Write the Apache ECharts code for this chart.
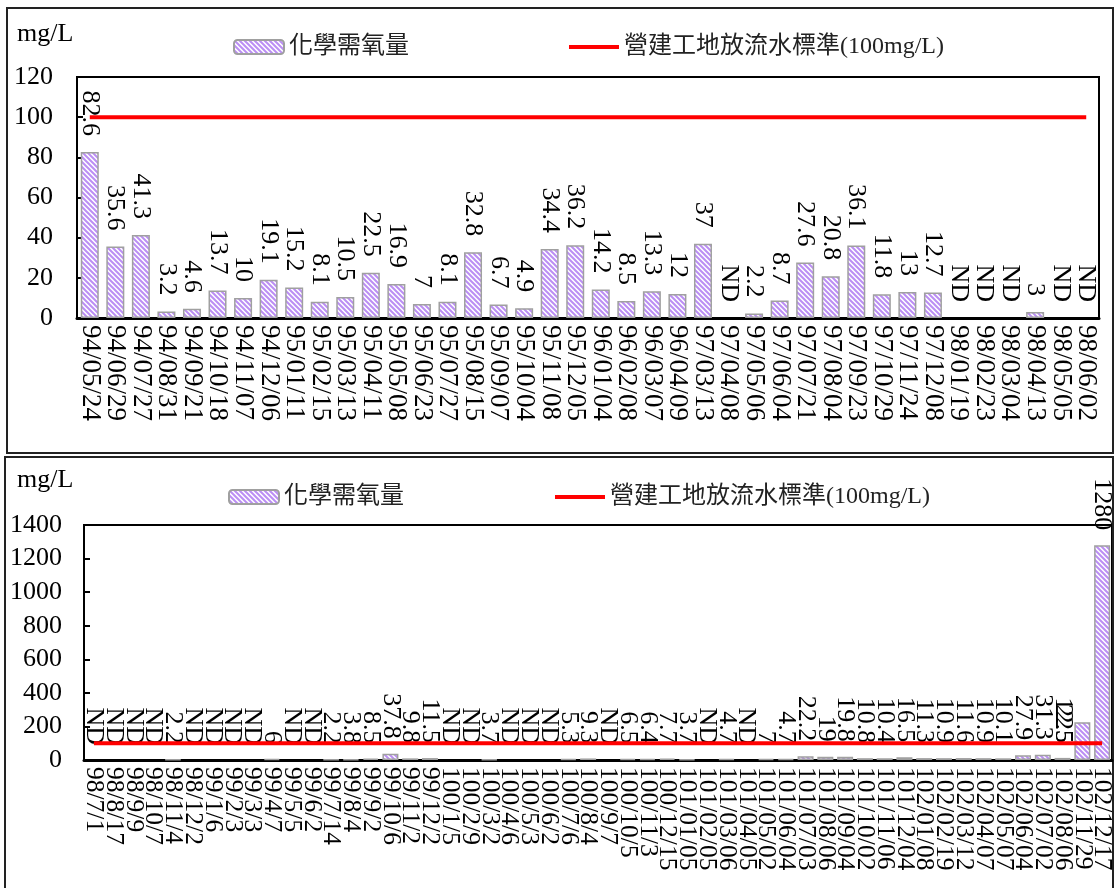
<!DOCTYPE html>
<html>
<head>
<meta charset="utf-8">
<script src="https://cdn.jsdelivr.net/npm/echarts@6/dist/echarts.min.js"></script>
<style>
  html, body { margin: 0; padding: 0; background: #fff; }
  #chart { width: 1115px; height: 888px; }
</style>
</head>
<body>
<div id="chart"></div>
<script>
// Sampling dates and COD readings (mg/L), 94/05 – 98/06
const earlyDates = ['94/05/24','94/06/29','94/07/27','94/08/31','94/09/21','94/10/18','94/11/07','94/12/06',
  '95/01/11','95/02/15','95/03/13','95/04/11','95/05/08','95/06/23','95/07/27','95/08/15','95/09/07','95/10/04',
  '95/11/08','95/12/05','96/01/04','96/02/08','96/03/07','96/04/09','97/03/13','97/04/08','97/05/06','97/06/04',
  '97/07/21','97/08/04','97/09/23','97/10/29','97/11/24','97/12/08','98/01/19','98/02/23','98/03/04','98/04/13',
  '98/05/05','98/06/02'];
const earlyCOD = [82.6,35.6,41.3,3.2,4.6,13.7,10,19.1,15.2,8.1,10.5,22.5,16.9,7,8.1,32.8,6.7,4.9,34.4,36.2,
  14.2,8.5,13.3,12,37,'ND',2.2,8.7,27.6,20.8,36.1,11.8,13,12.7,'ND','ND','ND',3,'ND','ND'];

// Sampling dates and COD readings (mg/L), 98/07 – 102/12
const lateDates = ['98/7/1','98/8/17','98/9/9','98/10/7','98/11/4','98/12/2','99/1/6','99/2/3','99/3/3','99/4/7',
  '99/5/5','99/6/2','99/7/14','99/8/4','99/9/2','99/10/6','99/11/2','99/12/2','100/1/5','100/2/9','100/3/2',
  '100/4/6','100/5/3','100/6/2','100/7/6','100/8/4','100/9/7','100/10/5','100/11/3','100/12/15','101/01/05',
  '101/02/05','101/03/06','101/04/05','101/05/02','101/06/04','101/07/03','101/08/06','101/09/04','101/10/02',
  '101/11/06','101/12/04','102/01/08','102/02/19','102/03/12','102/04/07','102/05/07','102/06/04','102/07/02',
  '102/08/06','102/11/29','102/12/17'];
const lateCOD = ['ND','ND','ND','ND',2.2,'ND','ND','ND','ND',6,'ND','ND',2.2,3.8,8.5,37.8,9.8,11.5,'ND','ND',3.7,
  'ND','ND','ND',5.3,9.3,'ND',6.5,6.4,7.7,3.7,'ND',4.7,'ND',7,4.7,22.2,19,19.8,10.8,10.4,16.5,11.3,10.9,11.6,
  10.9,10.1,27.9,31.3,12.5,225,1280];

// Discharge standard for construction sites
const dischargeLimit = 100;

const codName = '化學需氧量';
const limitName = '營建工地放流水標準(100mg/L)';
const serif = "'Liberation Serif', 'Noto Sans CJK TC'";

// Diagonal hatch fill for the COD bars
function hatch() {
  const s = 5;
  const c = document.createElement('canvas');
  c.width = s; c.height = s;
  const g = c.getContext('2d');
  g.fillStyle = '#ffffff';
  g.fillRect(0, 0, s, s);
  g.strokeStyle = '#bb8ef4';
  g.lineWidth = 2;
  g.beginPath();
  g.moveTo(-1, -1); g.lineTo(s + 1, s + 1);
  g.moveTo(-1, s - 1); g.lineTo(1, s + 1);
  g.moveTo(s - 1, -1); g.lineTo(s + 1, 1);
  g.stroke();
  return c;
}
const hatchFill = { image: hatch(), repeat: 'repeat' };

function barData(values, special) {
  return values.map((v, i) => {
    if (v === 'ND') {
      return { value: 0, label: { formatter: 'ND' }, itemStyle: { borderWidth: 0 } };
    }
    if (special && special[i]) {
      return Object.assign({ value: v }, special[i]);
    }
    return v;
  });
}

const labelStyle = {
  show: true,
  position: 'top',
  rotate: -90,
  align: 'right',
  verticalAlign: 'middle',
  distance: 16,
  fontFamily: serif,
  fontSize: 26,
  color: '#000'
};

function xAxisFor(idx, dates, size) {
  return {
    type: 'category', gridIndex: idx, data: dates,
    axisLine: { lineStyle: { color: '#000', width: 3 } },
    axisTick: { show: false },
    axisLabel: { interval: 0, rotate: -90, margin: 7, fontFamily: serif, fontSize: size, color: '#000' }
  };
}
function yAxisFor(idx, max, step, margin) {
  return {
    type: 'value', gridIndex: idx, min: 0, max: max, interval: step,
    splitLine: { show: false },
    axisLine: { show: true, lineStyle: { color: '#000', width: 2 } },
    axisTick: { show: true, inside: true, length: 6, lineStyle: { color: '#000', width: 2 } },
    axisLabel: { margin: margin, fontFamily: serif, fontSize: 26, color: '#000', formatter: (v) => String(v) }
  };
}
function legendFor(left, top, gap) {
  return {
    left: left, top: top, padding: 0, itemGap: gap, itemWidth: 50, itemHeight: 14,
    selectedMode: false,
    textStyle: { fontFamily: serif, fontSize: 24, color: '#222' },
    data: [
      { name: codName },
      { name: limitName, icon: 'path://M0,0h50v4h-50z', itemStyle: { color: '#ff0000' } }
    ]
  };
}

const chart = echarts.init(document.getElementById('chart'), null, { renderer: 'canvas' });
chart.setOption({
  animation: false,
  backgroundColor: '#ffffff',
  grid: [
    { left: 77, top: 77, right: 16, height: 241, show: true, borderColor: '#000', borderWidth: 2, outerBoundsMode: 'none' },
    { left: 84, top: 525, right: 3, height: 235, show: true, borderColor: '#000', borderWidth: 2, outerBoundsMode: 'none' }
  ],
  legend: [legendFor(233, 35, 160), legendFor(228, 485, 151)],
  xAxis: [xAxisFor(0, earlyDates, 27), xAxisFor(1, lateDates, 25.5)],
  yAxis: [yAxisFor(0, 120, 20, 24), yAxisFor(1, 1400, 200, 22)],
  series: [
    {
      name: codName, type: 'bar', xAxisIndex: 0, yAxisIndex: 0, barWidth: 18,
      data: barData(earlyCOD),
      itemStyle: { color: hatchFill, borderColor: '#a0a0a0', borderWidth: 1.5 },
      label: labelStyle
    },
    {
      name: limitName, type: 'line', xAxisIndex: 0, yAxisIndex: 0, symbol: 'none',
      data: earlyDates.map(() => dischargeLimit),
      lineStyle: { color: '#ff0000', width: 4 }, itemStyle: { color: '#ff0000' }, z: 3
    },
    {
      name: codName, type: 'bar', xAxisIndex: 1, yAxisIndex: 1, barWidth: 16,
      // the 102/11/29 label sits over its neighbour's label
      data: barData(lateCOD, { 50: { label: { offset: [35.7, 19.8] } } }),
      itemStyle: { color: hatchFill, borderColor: '#a0a0a0', borderWidth: 1.5 },
      label: Object.assign({}, labelStyle, { distance: 15 })
    },
    {
      name: limitName, type: 'line', xAxisIndex: 1, yAxisIndex: 1, symbol: 'none',
      data: lateDates.map(() => dischargeLimit),
      lineStyle: { color: '#ff0000', width: 4 }, itemStyle: { color: '#ff0000' }, z: 3
    }
  ],
  graphic: [
    { type: 'rect', shape: { x: 7, y: 8, width: 1106, height: 445 }, style: { fill: 'none', stroke: '#222', lineWidth: 2 }, silent: true },
    { type: 'rect', shape: { x: 5, y: 457, width: 1108, height: 445 }, style: { fill: 'none', stroke: '#222', lineWidth: 2 }, silent: true },
    { type: 'text', x: 17, y: 34, style: { text: 'mg/L', font: "26px 'Liberation Serif'", fill: '#000', verticalAlign: 'middle' }, silent: true },
    { type: 'text', x: 17, y: 480, style: { text: 'mg/L', font: "26px 'Liberation Serif'", fill: '#000', verticalAlign: 'middle' }, silent: true }
  ]
});
</script>
</body>
</html>
